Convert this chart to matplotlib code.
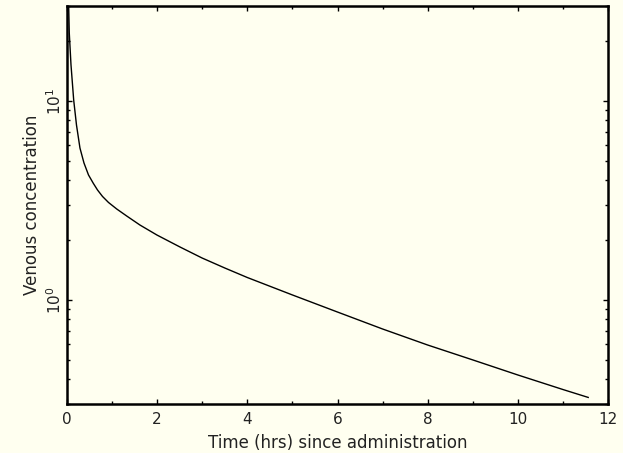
import numpy as np
import matplotlib
matplotlib.use('Agg')
import matplotlib.pyplot as plt
from matplotlib.ticker import LogLocator, NullFormatter, MultipleLocator

# time (hrs) and venous concentration
time_hrs = [0.035, 0.051, 0.089, 0.149, 0.211, 0.288, 0.377, 0.477, 0.583, 0.677,
            0.788, 0.921, 1.103, 1.324, 1.619, 1.996, 2.507, 2.995, 3.5, 4.0, 5.0,
            6.0, 7.0, 8.0, 9.0, 10.0, 11.0, 11.56]
venous_conc = [32.0, 21.97, 15.2, 10.1, 7.57, 5.80, 4.88, 4.25, 3.86, 3.571,
               3.313, 3.090, 2.866, 2.643, 2.38, 2.12, 1.846, 1.626, 1.448, 1.297, 1.06,
               0.870, 0.715, 0.594, 0.50, 0.42, 0.355, 0.324]

bg = '#fffff0'
fig = plt.figure(figsize=(6.23, 4.53), dpi=100, facecolor=bg)
ax = fig.add_axes([0.1075, 0.108, 0.8685, 0.8788], facecolor=bg)

ax.plot(time_hrs, venous_conc, color='black', lw=1.0)
ax.set_yscale('log')
ax.set_xlim(0, 12)
ax.set_ylim(0.30, 30.0)

ax.xaxis.set_major_locator(MultipleLocator(2))
ax.xaxis.set_minor_locator(MultipleLocator(1))
ax.yaxis.set_major_locator(LogLocator(base=10))
ax.yaxis.set_minor_locator(LogLocator(base=10, subs=np.arange(2, 10)))
ax.yaxis.set_minor_formatter(NullFormatter())

for s in ax.spines.values():
    s.set_linewidth(1.8)

ax.tick_params(which='both', direction='in', top=True, right=True,
               color='black', labelcolor='#222222', labelsize=11)
ax.tick_params(which='major', length=3.8, width=1.0)
ax.tick_params(which='minor', length=2.2, width=1.0)
ax.tick_params(axis='x', pad=6)
ax.tick_params(axis='y', labelrotation=90, pad=2)
for lab in ax.get_yticklabels():
    lab.set_va('center')

ax.set_xlabel('Time (hrs) since administration', fontsize=12, color='#222222', labelpad=5)
ax.set_ylabel('Venous concentration', fontsize=12, color='#222222', labelpad=3)

fig.savefig('out.png', dpi=100, facecolor=bg)
